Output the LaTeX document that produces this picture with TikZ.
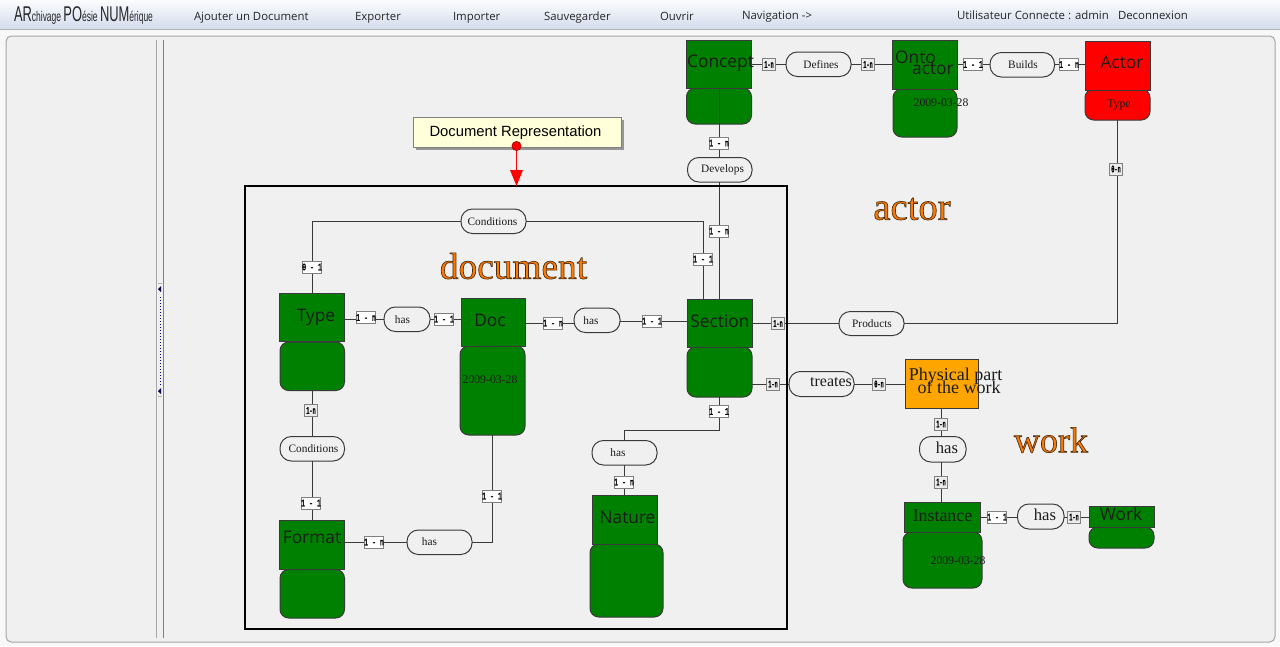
\documentclass[tikz,border=0pt]{standalone}
\usepackage{fontspec}
\setmainfont{Liberation Serif}
\newfontfamily\uifont{Open Sans}
\newfontfamily\arfont{Liberation Sans}
\newfontfamily\cardfont[FakeStretch=0.66,FakeBold=2.2]{Liberation Mono}
\newfontfamily\cardnfont[FakeStretch=0.52,FakeBold=2.6]{Liberation Mono}
\usetikzlibrary{arrows.meta,shadows}
\pgfdeclarelayer{boxes}
\pgfdeclarelayer{lines}
\pgfsetlayers{boxes,lines,main}
\definecolor{pagebg}{HTML}{F0F0F0}
\definecolor{menutop}{HTML}{FBFCFE}
\definecolor{menubot}{HTML}{D3DBEC}
\definecolor{hdgreen}{HTML}{008000}
\definecolor{edgecol}{HTML}{3A3A3A}
\definecolor{inkcol}{HTML}{1C1C1C}
\definecolor{noteyel}{HTML}{FFFFD9}
\definecolor{physorange}{HTML}{FFA500}
\tikzset{
  x=.75pt,y=-.75pt,
  geo/.style={rectangle,inner sep=0pt,outer sep=0pt,draw=edgecol,line width=.75pt},
  hd/.style={geo,fill=hdgreen},
  bd/.style={geo,fill=hdgreen,rounded corners=6.5pt},
  hdred/.style={geo,fill=red},
  bdred/.style={geo,fill=red,rounded corners=6.5pt},
  hdorange/.style={geo,fill=physorange},
  pill/.style={geo,fill=pagebg,rounded corners=8.5pt},
  lbl/.style={inner sep=0pt,outer sep=0pt,text=inkcol,align=center},
  hdtext/.style={lbl,font=\uifont\fontsize{13pt}{13pt}\selectfont},
  srtext/.style={lbl,font=\fontsize{13.4pt}{10pt}\selectfont},
  smalltext/.style={lbl,font=\fontsize{8.5pt}{10pt}\selectfont},
  datetext/.style={lbl,font=\fontsize{8.8pt}{10pt}\selectfont},
  cardw/.style={inner sep=0pt,outer sep=0pt,draw=gray,fill=white,line width=.75pt,minimum width=13.5pt,minimum height=9pt,font=\cardfont\fontsize{7.5pt}{8pt}\selectfont},
  cardn/.style={cardw,minimum width=9.5pt,fill=white!85!gray,font=\cardnfont\fontsize{7.5pt}{8pt}\selectfont},
  conn/.style={draw=edgecol,line width=.75pt},
  menu/.style={inner sep=0pt,outer sep=0pt,anchor=base west,text=black!85,font=\uifont\fontsize{8.55pt}{10pt}\selectfont},
  bigword/.style={inner sep=0pt,outer sep=0pt,font=\fontsize{28pt}{30pt}\selectfont},
}
\newcommand\rnode[6]{\pgfmathsetlengthmacro\rnwd{(#4-#2)*.75pt}\pgfmathsetlengthmacro\rnht{(#5-#3)*.75pt}\node[#6,anchor=north west,minimum width=\rnwd,minimum height=\rnht] (#1) at (#2,#3) {};}
\newcommand\outlined[1]{\special{pdf:code q 2 Tr 0.5 w 0.3 0.18 0.05 RG 1 0.47 0 rg}#1\special{pdf:code Q}}
\begin{document}
\begin{tikzpicture}
\useasboundingbox (0,0) rectangle (1280,646);
\begin{pgfonlayer}{boxes}
  \fill[pagebg!50!white] (0,0) rectangle (1280,646);
  \shade[top color=menutop,bottom color=menubot] (0,0) rectangle (1280,29);
  \draw[gray!60,line width=.75pt] (0,29.5) -- (1280,29.5);
  \draw[gray!70,fill=pagebg,line width=.75pt,rounded corners=4pt] (6,36) rectangle (1275,642);
  \draw[gray!70,line width=.75pt] (156.5,40) -- (156.5,638);
  \draw[gray,line width=.75pt] (163.5,40) -- (163.5,638);
  \draw[gray!60,line width=.75pt] (158,283) -- (162,283);
  \draw[gray!60,line width=.75pt] (158,396) -- (162,396);
  \fill[black!70!blue] (158,289) -- (161,286) -- (161,292) -- cycle;
  \fill[black!70!blue] (158,391) -- (161,388) -- (161,394) -- cycle;
  \draw[black!50!blue,line width=.75pt,dash pattern=on .75pt off 1.5pt] (160.5,297) -- (160.5,385);
  % heads and bodies
  \rnode{conceptb}{686.5}{88}{751.5}{124}{bd}
  \rnode{concepth}{686.5}{40.5}{751.5}{88.5}{hd}
  \rnode{ontob}{893}{89}{957}{137}{bd}
  \rnode{ontoh}{892.5}{40.5}{957.5}{89}{hd}
  \rnode{actorb}{1085}{89}{1150}{120}{bdred}
  \rnode{actorh}{1085}{41}{1150}{90}{hdred}
  \rnode{typeb}{280}{342}{344.5}{390.5}{bd}
  \rnode{typeh}{279.5}{293.5}{344.5}{341.5}{hd}
  \rnode{docb}{460}{346}{525}{435}{bd}
  \rnode{doch}{461}{298}{525.5}{346}{hd}
  \rnode{sectionb}{687}{347}{752}{397}{bd}
  \rnode{sectionh}{687}{299.5}{752}{347.5}{hd}
  \rnode{formatb}{280}{569.5}{344.5}{618}{bd}
  \rnode{formath}{279.5}{520.5}{344.5}{569}{hd}
  \rnode{natureb}{590}{544}{663}{617}{bd}
  \rnode{natureh}{592.5}{495.5}{657.5}{544}{hd}
  \rnode{physical}{905.5}{359.5}{978.5}{408}{hdorange}
  \rnode{instanceb}{903}{532}{982}{588}{bd}
  \rnode{instanceh}{904}{502}{980}{532}{hd}
  \rnode{workb}{1089}{527}{1154}{548}{bd}
  \rnode{workh}{1089}{506}{1154}{527}{hd}
\end{pgfonlayer}
% pills
\rnode{defines}{786}{52}{851}{76.5}{pill}
\rnode{builds}{990}{52.5}{1054.5}{77}{pill}
\rnode{develops}{687.5}{157.5}{752}{182}{pill}
\rnode{condtop}{461}{209}{526}{233.5}{pill}
\rnode{hastd}{384}{307}{430}{331.5}{pill}
\rnode{hasds}{574}{308}{620}{332.5}{pill}
\rnode{products}{839}{311.5}{904}{335.5}{pill}
\rnode{treates}{789}{371.5}{854}{396.5}{pill}
\rnode{haspi}{919.5}{436.5}{966}{462}{pill}
\rnode{hasiw}{1017.5}{504}{1064}{529}{pill}
\rnode{hassn}{592}{440.5}{657}{465}{pill}
\rnode{condleft}{280}{436.5}{344.5}{461}{pill}
\rnode{hasfd}{407}{530}{472}{554.5}{pill}
% cardinalities
\node[cardn] (c1) at (769,64.5) {1-n};
\node[cardn] (c2) at (868,64.5) {1-n};
\node[cardw] (c3) at (973,64.5) {1 - 1};
\node[cardw] (c4) at (1069,64.5) {1 - n};
\node[cardw] (c5) at (719,143) {1 - n};
\node[cardw] (c6) at (719,231) {1 - n};
\node[cardw] (c7) at (703,259) {1 - 1};
\node[cardw] (c8) at (312,267) {0 - 1};
\node[cardw] (c9) at (366,317.5) {1 - n};
\node[cardw] (c10) at (444,319) {1 - 1};
\node[cardw] (c11) at (553,323) {1 - n};
\node[cardw] (c12) at (652,321) {1 - 1};
\node[cardn] (c13) at (778,323.5) {1-n};
\node[cardn] (c14) at (773,384) {1-n};
\node[cardn] (c15) at (879,384) {0-n};
\node[cardw] (c16) at (719,411.5) {1 - 1};
\node[cardw] (c17) at (624,482) {1 - n};
\node[cardn] (c18) at (941,424) {1-n};
\node[cardn] (c19) at (941,482) {1-n};
\node[cardw] (c20) at (997,517) {1 - 1};
\node[cardn] (c21) at (1074,517) {1-n};
\node[cardn] (c22) at (311,410.5) {1-n};
\node[cardw] (c23) at (311,503) {1 - 1};
\node[cardw] (c24) at (374,542) {1 - n};
\node[cardw] (c25) at (492,496) {1 - 1};
\node[cardn] (c26) at (1116,169) {0-n};
% named free ends
\coordinate (secttop) at (703,299.5);
\coordinate (typetop) at (312,293.5);
\coordinate (actorfoot) at (1117,120);
\coordinate (sectrow) at (752,384);
\coordinate (natrow) at (624,430);
\coordinate (sectfoot) at (719,397);
\coordinate (docfoot) at (492,435);
\coordinate (physx) at (941,408);
\coordinate (condx) at (312,390.5);
\coordinate (sectionx) at (719,299.5);
\coordinate (snx) at (624,465);
\begin{pgfonlayer}{lines}
  \draw[conn] (concepth.east |- defines.west) -- (defines.west);
  \draw[conn] (defines.east) -- (defines.east -| ontoh.west);
  \draw[conn] (ontoh.east |- builds.west) -- (builds.west);
  \draw[conn] (builds.east) -- (builds.east -| actorh.west);
  \draw[conn] (sectionx |- concepth.south) -- (sectionx |- develops.north);
  \draw[conn] (sectionx |- develops.south) -- (sectionx);
  \draw[conn] (typetop) |- (condtop.west);
  \draw[conn] (condtop.east) -| (secttop);
  \draw[conn] (typeh.east |- hastd.west) -- (hastd.west);
  \draw[conn] (hastd.east) -- (hastd.east -| doch.west);
  \draw[conn] (doch.east |- c11) -- (hasds.west |- c11);
  \draw[conn] (hasds.east |- c12) -- (sectionh.west |- c12);
  \draw[conn] (sectionh.east |- products.west) -- (products.west);
  \draw[conn] (products.east) -| (actorfoot);
  \draw[conn] (sectrow) -- (treates.west |- sectrow);
  \draw[conn] (treates.east |- sectrow) -- (physical.west |- sectrow);
  \draw[conn] (sectfoot) |- (natrow) -- (snx |- hassn.north);
  \draw[conn] (snx) -- (snx |- natureh.north);
  \draw[conn] (physx) -- (physx |- haspi.north);
  \draw[conn] (physx |- haspi.south) -- (physx |- instanceh.north);
  \draw[conn] (instanceh.east |- c20) -- (hasiw.west |- c20);
  \draw[conn] (hasiw.east |- c21) -- (workh.west |- c21);
  \draw[conn] (condx) -- (condx |- condleft.north);
  \draw[conn] (condx |- condleft.south) -- (condx |- formath.north);
  \draw[conn] (formath.east |- hasfd.west) -- (hasfd.west);
  \draw[conn] (hasfd.east) -| (docfoot);
\end{pgfonlayer}
% frame and callout
\rnode{frame}{245}{186}{787}{629}{geo,draw=black,line width=1.5pt}
\rnode{note}{413}{117}{621}{147}{geo,draw=gray,fill=noteyel,drop shadow={shadow xshift=2.5pt,shadow yshift=-2.5pt,fill=gray,opacity=.8}}
\node[inner sep=0pt,outer sep=0pt,text=black,font=\arfont\fontsize{11.1pt}{12pt}\selectfont] (notetext) at (515.5,132.5) {Document Representation};
\node[circle,inner sep=0pt,minimum size=7pt,fill=red,draw=red!60!black,line width=.4pt] (notedot) at (516.5,146) {};
\draw[red,line width=.75pt,-{Triangle[length=12pt,width=9.5pt,fill=red]}] (notedot.south) -- (notedot.south |- frame.north);
% texts
\node[hdtext] (t1) at (720.5,63) {Concept};
\node[hdtext] (t2a) at (915.5,57.5) {Onto};
\node[hdtext] (t2b) at (933,68.5) {actor};
\node[hdtext] (t3) at (1122,62.5) {Actor};
\node[hdtext] (t4) at (316,317) {Type};
\node[hdtext] (t5) at (490,320) {Doc};
\node[hdtext] (t6) at (720,321) {Section};
\node[hdtext] (t7) at (312,537.5) {Format};
\node[hdtext] (t8) at (627.5,517.5) {Nature};
\node[lbl,font=\fontsize{13.5pt}{12pt}\selectfont] (t9) at (955.5,376.5) {Physical part};
\node[lbl,font=\fontsize{13.5pt}{12pt}\selectfont] (t10) at (959,387.5) {of the work};
\node[srtext] (t11) at (942.5,516) {Instance};
\node[hdtext] (t12) at (1121,514) {Work};
\node[datetext] (d1) at (941,102.5) {2009-03-28};
\node[datetext] (d2) at (490,380) {2009-03-28};
\node[datetext] (d3) at (958,560.5) {2009-03-28};
\node[datetext] (d4) at (1119,104.5) {Type};
\node[smalltext] (p1) at (821,64.5) {Defines};
\node[smalltext] (p2) at (1023,64.5) {Builds};
\node[smalltext] (p3) at (722.5,170) {Develops};
\node[smalltext] (p4) at (492.5,221.5) {Conditions};
\node[smalltext] (p5) at (402.5,320) {has};
\node[smalltext] (p6) at (591,321) {has};
\node[smalltext] (p7) at (872,324) {Products};
\node[lbl,font=\fontsize{12pt}{12pt}\selectfont] (p8) at (831,382) {treates};
\node[lbl,font=\fontsize{12.5pt}{12pt}\selectfont] (p9) at (947,448) {has};
\node[lbl,font=\fontsize{12.5pt}{12pt}\selectfont] (p10) at (1045,515) {has};
\node[smalltext] (p11) at (618,453) {has};
\node[smalltext] (p12) at (313.5,449) {Conditions};
\node[smalltext] (p13) at (429.5,542) {has};
\node[bigword] (w1) at (513.5,266) {\outlined{document}};
\node[bigword,font=\fontsize{29pt}{30pt}\selectfont] (w2) at (912,209) {\outlined{actor}};
\node[bigword,font=\fontsize{27pt}{30pt}\selectfont] (w3) at (1051,440) {\outlined{work}};
% menu bar
\node[inner sep=0pt,outer sep=0pt,anchor=west,xscale=.605,text=black!85,font=\arfont] (title) at (14,16) {\fontsize{16pt}{16pt}\selectfont AR\fontsize{10.5pt}{16pt}\selectfont chivage \fontsize{16pt}{16pt}\selectfont PO\fontsize{10.5pt}{16pt}\selectfont ésie \fontsize{16pt}{16pt}\selectfont NUM\fontsize{10.5pt}{16pt}\selectfont érique};
\node[menu] (m1) at (194,20) {Ajouter un Document};
\node[menu] (m2) at (355,20) {Exporter};
\node[menu] (m3) at (453,20) {Importer};
\node[menu] (m4) at (544,20) {Sauvegarder};
\node[menu] (m5) at (660,20) {Ouvrir};
\node[menu] (m6) at (742,19) {Navigation ->};
\node[menu] (m7) at (957,19) {Utilisateur Connecte : admin};
\node[menu] (m8) at (1118,19) {Deconnexion};
\end{tikzpicture}
\end{document}
